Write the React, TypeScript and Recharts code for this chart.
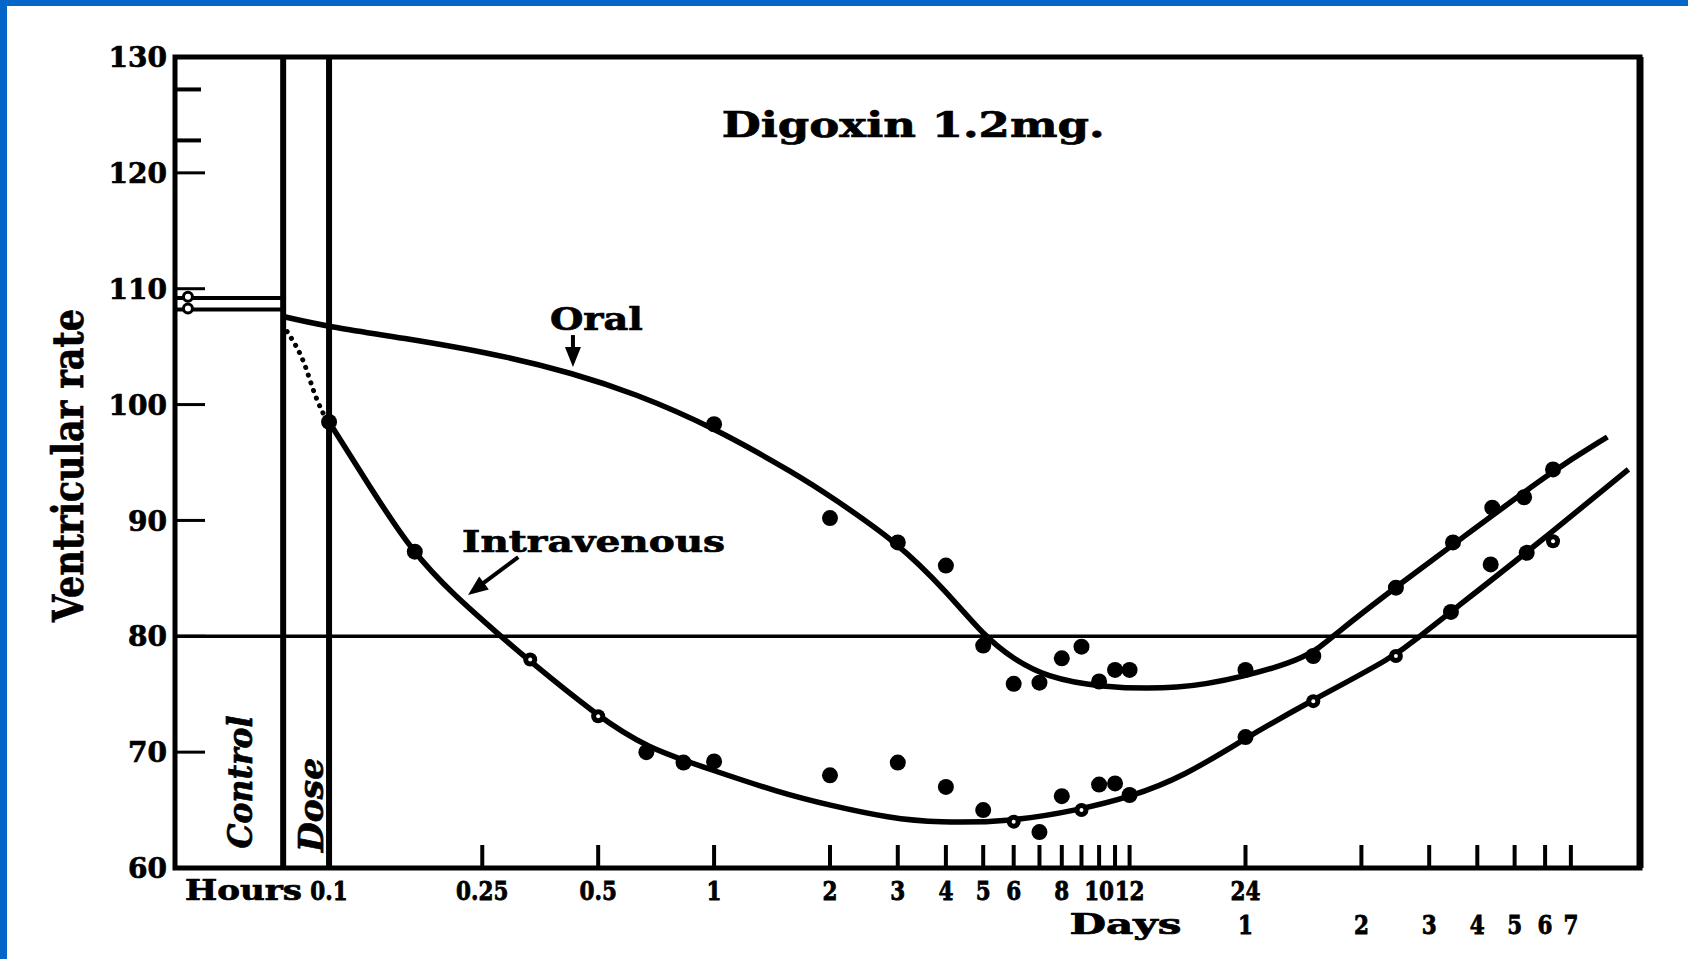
import React from "react";
import {
  ComposedChart,
  Line,
  Scatter,
  XAxis,
  YAxis,
  ReferenceLine,
  ReferenceArea,
  ReferenceDot,
} from "recharts";

const WIDTH = 1688;
const HEIGHT = 959;
const INK = "#000";
const FRAME_BLUE = "#0566c9";
const SERIF = '"DejaVu Serif", "Liberation Serif", serif';

// Time after the dose in hours, on a logarithmic axis
const X_DOMAIN: [number, number] = [0.0398, 254];
const CONTROL_END = 0.076;
const DOSE_TIME = 0.1;
const Y_DOMAIN: [number, number] = [60, 130];
const TARGET_RATE = 80;

const yTicks = [60, 70, 80, 90, 100, 110, 120, 130];
const yExtraMarks = [127.2, 122.8];

const xTicks = [0.1, 0.25, 0.5, 1, 2, 3, 4, 5, 6, 7, 8, 9, 10, 11, 12, 24, 48, 72, 96, 120, 144, 168];
const hourLabelAt = [0.1, 0.25, 0.5, 1, 2, 3, 4, 5, 6, 8, 10, 12, 24];
const hourLabelText = ["0.1", "0.25", "0.5", "1", "2", "3", "4", "5", "6", "8", "10", "12", "24"];
const dayLabelAt = [24, 48, 72, 96, 120, 144, 168];
const dayLabelText = ["1", "2", "3", "4", "5", "6", "7"];

// Control period (before the dose)
const controlOral: [number, number][] = [[0.0398, 109.2], [0.076, 109.2]];
const controlIV: [number, number][] = [[0.0398, 108.2], [0.076, 108.2]];
const controlMarks: [number, number][] = [[0.043, 109.3], [0.043, 108.3]];

// Fitted response curves: [hours, beats per minute]
const oralCurve: [number, number][] = [
  [0.076, 107.6], [0.1, 106.7], [0.153, 105.8], [0.278, 104.3], [0.43, 102.7],
  [0.617, 101.0], [0.99, 98.1], [1.67, 93.8], [2, 92.1], [3, 88.1], [4.03, 83.8],
  [5, 80.1], [6, 78.0], [7.3, 76.5], [9.9, 75.6], [16.2, 75.4], [23.7, 76.5],
  [34.9, 78.1], [41, 80.2], [58.7, 84.2], [83, 87.9], [152, 94.4], [209, 97.2],
];
const ivLeadIn: [number, number][] = [
  [0.0778, 106.3], [0.0851, 104.0], [0.0931, 100.4], [0.0994, 98.4],
];
const ivCurve: [number, number][] = [
  [0.1, 98.5], [0.127, 93.0], [0.165, 87.2], [0.212, 83.5], [0.273, 80.3],
  [0.328, 78.0], [0.499, 73.1], [0.665, 70.4], [1, 68.4], [1.48, 66.5],
  [2, 65.4], [2.86, 64.3], [3.8, 63.9], [5.94, 64.0], [8.8, 65.0], [12, 66.1],
  [16.6, 67.9], [23.7, 71.1], [34.9, 74.3], [58.4, 78.2], [68.6, 80.1],
  [81.9, 82.1], [131, 87.4], [237, 94.4],
];

// Observed rates
const oralObserved: [number, number][] = [
  [1, 98.3], [2, 90.2], [3, 88.1], [4, 86.1], [5, 79.2], [6, 75.9], [7, 76.0],
  [8, 78.1], [9, 79.1], [10, 76.1], [11, 77.1], [12, 77.1], [24, 77.1],
  [36, 78.3], [59, 84.2], [83, 88.1], [105, 91.1], [127, 92.0], [151, 94.4],
];
const ivObserved: [number, number][] = [
  [0.1, 98.5], [0.167, 87.3], [0.667, 70.0], [0.833, 69.1], [1, 69.2],
  [2, 68.0], [3, 69.1], [4, 67.0], [5, 65.0], [7, 63.1], [8, 66.2],
  [10, 67.2], [11, 67.3], [12, 66.3], [24, 71.3], [82, 82.1], [104, 86.2],
  [129, 87.2],
];
const ivObservedOnCurve: [number, number][] = [
  [0.333, 78.0], [0.5, 73.1], [6, 64.0], [9, 65.0], [36, 74.4], [59, 78.3], [151, 88.2],
];

const toPoints = (pairs: [number, number][]) => pairs.map(([x, y]) => ({ x, y }));

const textStyle = {
  fontFamily: SERIF,
  fontWeight: 700,
  fill: INK,
  stroke: INK,
  strokeWidth: 0.7,
} as const;

// tall, narrow digits for the time labels
const TimeLabel = ({ x, y, text }: { x: number; y: number; text: string }) => (
  <text
    x={0}
    y={0}
    transform={`translate(${x} ${y}) scale(1 1.25)`}
    textAnchor="middle"
    fontSize={21.5}
    {...textStyle}
  >
    {text}
  </text>
);

const XTick = (props: any) => {
  const { x, y, payload } = props;
  const v = payload.value as number;
  const hi = hourLabelAt.indexOf(v);
  const di = dayLabelAt.indexOf(v);
  return (
    <g>
      {v !== DOSE_TIME && (
        <line x1={x} y1={y} x2={x} y2={y - 23} stroke={INK} strokeWidth={4} />
      )}
      {hi >= 0 && <TimeLabel x={x} y={y + 32} text={hourLabelText[hi]} />}
      {v === DOSE_TIME && (
        <text x={x - 27} y={y + 32} textAnchor="end" fontSize={28} textLength={117} lengthAdjust="spacingAndGlyphs" {...textStyle}>
          Hours
        </text>
      )}
      {di >= 0 && <TimeLabel x={x} y={y + 66} text={dayLabelText[di]} />}
      {v === 24 && (
        <text x={x - 64} y={y + 66} textAnchor="end" fontSize={28} textLength={112} lengthAdjust="spacingAndGlyphs" {...textStyle}>
          Days
        </text>
      )}
    </g>
  );
};

const YTick = (props: any) => {
  const { x, y, payload } = props;
  return (
    <g>
      <line x1={x} y1={y} x2={x + 30} y2={y} stroke={INK} strokeWidth={3} />
      <text x={x - 8} y={y} dy="0.36em" textAnchor="end" fontSize={28} {...textStyle}>
        {payload.value}
      </text>
    </g>
  );
};

const yAxisTitle = (props: any) => {
  const vb = props.viewBox;
  const bx = vb.x - 32;
  const cy = vb.y + vb.height / 2 + 3;
  return (
    <text
      x={bx}
      y={cy}
      transform={`rotate(-90 ${bx} ${cy})`}
      textAnchor="middle"
      fontSize={42}
      textLength={313}
      lengthAdjust="spacingAndGlyphs"
      {...textStyle}
    >
      Ventricular rate
    </text>
  );
};

const textShape =
  (label: string, size: number, length: number, opts: { rotate?: boolean; italic?: boolean } = {}) =>
  (p: any) => (
    <text
      x={p.cx}
      y={p.cy}
      textAnchor="middle"
      fontSize={size}
      textLength={length}
      lengthAdjust="spacingAndGlyphs"
      fontStyle={opts.italic ? "italic" : "normal"}
      transform={opts.rotate ? `rotate(-90 ${p.cx} ${p.cy})` : undefined}
      {...textStyle}
    >
      {label}
    </text>
  );

const arrowHead = (angle: number) => (p: any) => (
  <polygon
    points="0,0 -20,-8 -20,8"
    fill={INK}
    transform={`translate(${p.cx} ${p.cy}) rotate(${angle})`}
  />
);

const filledDot = (p: any) => <circle cx={p.cx} cy={p.cy} r={8} fill={INK} />;
const ringDot = (p: any) => (
  <g>
    <circle cx={p.cx} cy={p.cy} r={7} fill={INK} />
    <circle cx={p.cx} cy={p.cy} r={2} fill="#fff" />
  </g>
);
const controlDot = (p: any) => (
  <circle cx={p.cx} cy={p.cy} r={4.5} fill="#fff" stroke={INK} strokeWidth={3} />
);

export default function App() {
  return (
    <div
      style={{
        position: "absolute",
        left: 0,
        top: 0,
        width: WIDTH,
        height: HEIGHT,
        background: "#fff",
        overflow: "hidden",
      }}
    >
      <div
        style={{
          position: "absolute",
          left: 0,
          top: 0,
          width: WIDTH,
          height: HEIGHT,
          boxSizing: "border-box",
          borderLeft: `7px solid ${FRAME_BLUE}`,
          borderTop: `6px solid ${FRAME_BLUE}`,
        }}
      />
      <div style={{ position: "absolute", left: 0, top: 0 }}>
        <ComposedChart
          width={WIDTH}
          height={HEIGHT}
          margin={{ top: 57, right: 48, bottom: 51, left: 115 }}
        >
          <XAxis
            dataKey="x"
            type="number"
            scale="log"
            domain={X_DOMAIN}
            allowDataOverflow
            ticks={xTicks}
            interval={0}
            tick={<XTick />}
            tickLine={false}
            tickSize={0}
            tickMargin={0}
            axisLine={false}
            height={40}
          />
          <YAxis
            type="number"
            domain={Y_DOMAIN}
            allowDataOverflow
            ticks={yTicks}
            interval={0}
            tick={<YTick />}
            tickLine={false}
            tickSize={0}
            tickMargin={0}
            axisLine={false}
            width={60}
            label={{ content: yAxisTitle }}
          />

          {/* plot frame */}
          <ReferenceArea
            x1={X_DOMAIN[0]}
            x2={X_DOMAIN[1]}
            y1={Y_DOMAIN[0]}
            y2={Y_DOMAIN[1]}
            fill="none"
            fillOpacity={0}
            stroke={INK}
            strokeWidth={5}
          />
          <ReferenceLine x={X_DOMAIN[1]} stroke={INK} strokeWidth={7} />
          <ReferenceLine x={CONTROL_END} stroke={INK} strokeWidth={6} />
          <ReferenceLine x={DOSE_TIME} stroke={INK} strokeWidth={6} />
          <ReferenceLine y={TARGET_RATE} stroke={INK} strokeWidth={3.5} />
          {yExtraMarks.map((v) => (
            <ReferenceLine
              key={v}
              segment={[{ x: X_DOMAIN[0], y: v }, { x: 0.0465, y: v }]}
              stroke={INK}
              strokeWidth={4}
            />
          ))}

          {/* control level */}
          <Line data={toPoints(controlOral)} dataKey="y" stroke={INK} strokeWidth={4} dot={false} activeDot={false} isAnimationActive={false} />
          <Line data={toPoints(controlIV)} dataKey="y" stroke={INK} strokeWidth={4} dot={false} activeDot={false} isAnimationActive={false} />
          <Scatter data={toPoints(controlMarks)} dataKey="y" shape={controlDot} isAnimationActive={false} />

          {/* fitted curves */}
          <Line data={toPoints(oralCurve)} dataKey="y" type="basis" stroke={INK} strokeWidth={5.5} dot={false} activeDot={false} isAnimationActive={false} />
          <Line data={toPoints(ivLeadIn)} dataKey="y" type="monotone" stroke={INK} strokeWidth={5} strokeDasharray="0.1 8" strokeLinecap="round" dot={false} activeDot={false} isAnimationActive={false} />
          <Line data={toPoints(ivCurve)} dataKey="y" type="basis" stroke={INK} strokeWidth={5.5} dot={false} activeDot={false} isAnimationActive={false} />

          {/* observations */}
          <Scatter data={toPoints(oralObserved)} dataKey="y" shape={filledDot} isAnimationActive={false} />
          <Scatter data={toPoints(ivObserved)} dataKey="y" shape={filledDot} isAnimationActive={false} />
          <Scatter data={toPoints(ivObservedOnCurve)} dataKey="y" shape={ringDot} isAnimationActive={false} />

          {/* annotations */}
          <ReferenceDot x={3.29} y={123.1} shape={textShape("Digoxin 1.2mg.", 36, 383)} />
          <ReferenceDot x={0.4947} y={106.44} shape={textShape("Oral", 31, 93)} />
          <ReferenceLine segment={[{ x: 0.43, y: 106.0 }, { x: 0.43, y: 104.2 }]} stroke={INK} strokeWidth={4} />
          <ReferenceDot x={0.43} y={103.25} shape={arrowHead(90)} />
          <ReferenceDot x={0.4866} y={87.28} shape={textShape("Intravenous", 30, 263)} />
          <ReferenceLine segment={[{ x: 0.31, y: 86.84 }, { x: 0.247, y: 84.4 }]} stroke={INK} strokeWidth={4} />
          <ReferenceDot x={0.2296} y={83.56} shape={arrowHead(143)} />
          <ReferenceDot x={0.0631} y={67.43} shape={textShape("Control", 34, 133, { rotate: true, italic: true })} />
          <ReferenceDot x={0.0965} y={65.44} shape={textShape("Dose", 34, 94, { rotate: true, italic: true })} />
        </ComposedChart>
      </div>
    </div>
  );
}
